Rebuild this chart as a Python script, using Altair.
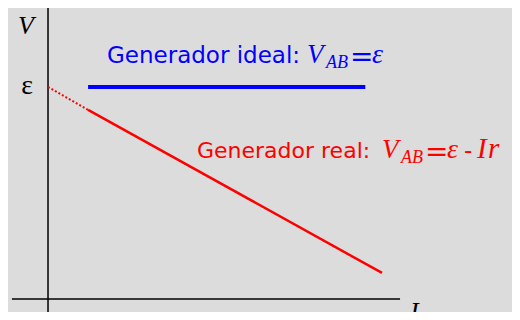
import altair as alt
import pandas as pd

# Diagram values (I in A, V in V): emf = 10, ideal and real generator lines
ideal_I = [1.2, 9.5]
ideal_V = [10.0, 10.0]
real_I = [1.2, 10.0]
real_V = [8.92, 1.23]
dotted_I = [0.0, 1.2]
dotted_V = [10.0, 8.92]
axis_I_span = [-1.08, 10.54]
axis_V_span = [-0.62, 13.87]

BG = "#dcdcdc"
SANS = "DejaVu Sans"
SERIF = "Liberation Serif"

xs = alt.Scale(domain=[-1.198, 13.892], nice=False, zero=False)
ys = alt.Scale(domain=[-0.613, 13.726], nice=False, zero=False)


def line(I, V, color, width, dash=None):
    kw = dict(color=color, strokeWidth=width, strokeCap="butt")
    if dash:
        kw["strokeDash"] = dash
    return alt.Chart(pd.DataFrame({"I": I, "V": V})).mark_line(**kw).encode(
        x=alt.X("I:Q", scale=xs, axis=None),
        y=alt.Y("V:Q", scale=ys, axis=None),
    )


h_axis = alt.Chart(pd.DataFrame({"I": [axis_I_span[0]], "I2": [axis_I_span[1]], "V": [0.0]})).mark_rule(
    color="black", strokeWidth=1.5).encode(
    x=alt.X("I:Q", scale=xs, axis=None), x2="I2:Q", y=alt.Y("V:Q", scale=ys, axis=None))
v_axis = alt.Chart(pd.DataFrame({"I": [0.0], "V": [axis_V_span[0]], "V2": [axis_V_span[1]]})).mark_rule(
    color="black", strokeWidth=1.5).encode(
    x=alt.X("I:Q", scale=xs, axis=None), y=alt.Y("V:Q", scale=ys, axis=None), y2="V2:Q")


def label(txt, x, y, size, color, font, style="normal", align="left"):
    return alt.Chart(pd.DataFrame({"t": [txt]})).mark_text(
        align=align, baseline="alphabetic", font=font, fontSize=size,
        fontStyle=style, color=color).encode(
        text="t:N", x=alt.value(x - 8), y=alt.value(y - 8))


labels = [
    # axis labels
    label("V", 18, 34, 26, "black", SERIF, "italic"),
    label("ε", 27, 94, 28, "black", SERIF, align="center"),
    label("I", 410, 320, 26, "black", SERIF, "italic"),
    # ideal
    label("Generador ideal:", 107, 63, 23, "#0000ff", SANS),
    label("V", 307, 63, 27, "#0000ff", SERIF, "italic"),
    label("AB", 326, 68, 18, "#0000ff", SERIF, "italic"),
    label("=", 350, 66, 28, "#0000ff", SANS),
    label("ε", 372, 63, 28, "#0000ff", SERIF, "italic"),
    # real
    label("Generador real:", 197, 158, 22, "#ff0000", SANS),
    label("V", 382, 158, 27, "#ff0000", SERIF, "italic"),
    label("AB", 401, 163, 18, "#ff0000", SERIF, "italic"),
    label("=", 425, 161, 28, "#ff0000", SANS),
    label("ε", 447, 158, 28, "#ff0000", SERIF, "italic"),
    label("-", 464, 158, 23, "#ff0000", SANS),
    label("I", 477, 158, 29, "#ff0000", SERIF, "italic"),
    label("r", 488, 158, 29, "#ff0000", SERIF, "italic"),
]

chart = alt.layer(
    h_axis, v_axis,
    line(ideal_I, ideal_V, "#0000ff", 4),
    line(dotted_I, dotted_V, "#ff0000", 2, [2, 2]),
    line(real_I, real_V, "#ff0000", 2.5),
    *labels,
).properties(
    width=504, height=304, autosize="none", padding=0, background=BG
).configure_view(stroke=None)

chart.save("out.html", embed_options={"renderer": "svg", "actions": False})
